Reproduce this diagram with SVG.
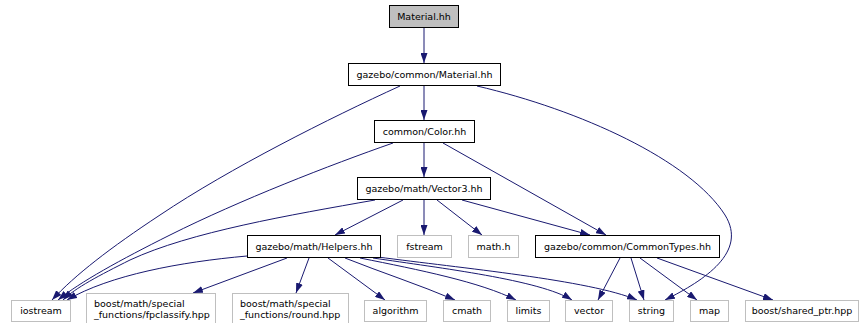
<svg xmlns="http://www.w3.org/2000/svg" width="860" height="323" viewBox="0 0 860 323">
<defs>
<marker id="arr" markerUnits="userSpaceOnUse" viewBox="0 0 10 7" refX="10" refY="3.5" markerWidth="10" markerHeight="7" orient="auto">
<path d="M0,0 L10,3.5 L0,7 z" fill="#191970"/>
</marker>
<style>
.e{fill:none;stroke:#191970;stroke-width:1;marker-end:url(#arr)}
.n rect{fill:#fff;stroke:#000;stroke-width:1}
.x rect{fill:#fff;stroke:#bfbfbf;stroke-width:1}
.r rect{fill:#bfbfbf;stroke:#000;stroke-width:1}
text{font-family:"DejaVu Sans","Liberation Sans",sans-serif;font-size:9.5px;fill:#000}
.c{text-anchor:middle}
</style>
</defs>
<g id="edges">
<path class="e" d="M424,28 L424,63"/>
<path class="e" d="M424,86 L424,120"/>
<path class="e" d="M400,86 C330,118 230,168 160,215 C110,248 75,275 52,300"/>
<path class="e" d="M477,86 C580,110 690,160 725,215 C748,252 705,280 665,300"/>
<path class="e" d="M424,143 L424,177"/>
<path class="e" d="M393,143 C330,165 240,200 170,235 C120,260 80,282 58,300"/>
<path class="e" d="M443,143 L606,235"/>
<path class="e" d="M403,200 L335,235"/>
<path class="e" d="M424,200 L424,235"/>
<path class="e" d="M437,200 L482,235"/>
<path class="e" d="M462,200 L590,235"/>
<path class="e" d="M375,200 C290,215 190,232 130,260 C100,275 75,288 63,300"/>
<path class="e" d="M247,256 C180,262 110,275 67,300"/>
<path class="e" d="M287,258 L193,293"/>
<path class="e" d="M309,258 L296,293"/>
<path class="e" d="M328,258 L385,300"/>
<path class="e" d="M345,258 C380,272 420,285 455,300"/>
<path class="e" d="M360,258 C420,270 480,282 516,300"/>
<path class="e" d="M373,258 C440,268 540,280 572,300"/>
<path class="e" d="M378,257 C460,268 590,280 637,300"/>
<path class="e" d="M620,258 L598,300"/>
<path class="e" d="M631,258 L644,300"/>
<path class="e" d="M640,258 L697,300"/>
<path class="e" d="M657,258 L773,300"/>
</g>
<g id="n0" class="r"><rect x="389.5" y="5.5" width="69" height="22"/><text class="c" x="424" y="20">Material.hh</text></g>
<g id="n1" class="n"><rect x="348.5" y="63.5" width="152" height="22"/><text class="c" x="424.5" y="78">gazebo/common/Material.hh</text></g>
<g id="n2" class="n"><rect x="374.5" y="120.5" width="100" height="22"/><text class="c" x="424.5" y="135">common/Color.hh</text></g>
<g id="n3" class="n"><rect x="357.5" y="177.5" width="133" height="22"/><text class="c" x="424" y="192">gazebo/math/Vector3.hh</text></g>
<g id="n4" class="n"><rect x="247.5" y="235.5" width="133" height="22"/><text class="c" x="314" y="250">gazebo/math/Helpers.hh</text></g>
<g id="n5" class="x"><rect x="397.5" y="235.5" width="54" height="22"/><text class="c" x="424.5" y="250">fstream</text></g>
<g id="n6" class="x"><rect x="468.5" y="235.5" width="50" height="22"/><text class="c" x="493.5" y="250">math.h</text></g>
<g id="n7" class="n"><rect x="535.5" y="235.5" width="184" height="22"/><text class="c" x="627.5" y="250">gazebo/common/CommonTypes.hh</text></g>
<g id="n8" class="x"><rect x="11.5" y="300.5" width="59" height="21"/><text class="c" x="41" y="314">iostream</text></g>
<g id="n9" class="x"><rect x="86.5" y="293.5" width="129" height="36"/><text x="94" y="307">boost/math/special</text><text x="94" y="318">_functions/fpclassify.hpp</text></g>
<g id="n10" class="x"><rect x="232.5" y="293.5" width="116" height="36"/><text x="240" y="307">boost/math/special</text><text x="240" y="318">_functions/round.hpp</text></g>
<g id="n11" class="x"><rect x="364.5" y="300.5" width="62" height="21"/><text class="c" x="395.5" y="314">algorithm</text></g>
<g id="n12" class="x"><rect x="443.5" y="300.5" width="47" height="21"/><text class="c" x="467" y="314">cmath</text></g>
<g id="n13" class="x"><rect x="507.5" y="300.5" width="42" height="21"/><text class="c" x="528.5" y="314">limits</text></g>
<g id="n14" class="x"><rect x="565.5" y="300.5" width="47" height="21"/><text class="c" x="589" y="314">vector</text></g>
<g id="n15" class="x"><rect x="629.5" y="300.5" width="44" height="21"/><text class="c" x="651.5" y="314">string</text></g>
<g id="n16" class="x"><rect x="690.5" y="300.5" width="38" height="21"/><text class="c" x="709.5" y="314">map</text></g>
<g id="n17" class="x"><rect x="745.5" y="300.5" width="113" height="21"/><text class="c" x="802" y="314">boost/shared_ptr.hpp</text></g>
</svg>
